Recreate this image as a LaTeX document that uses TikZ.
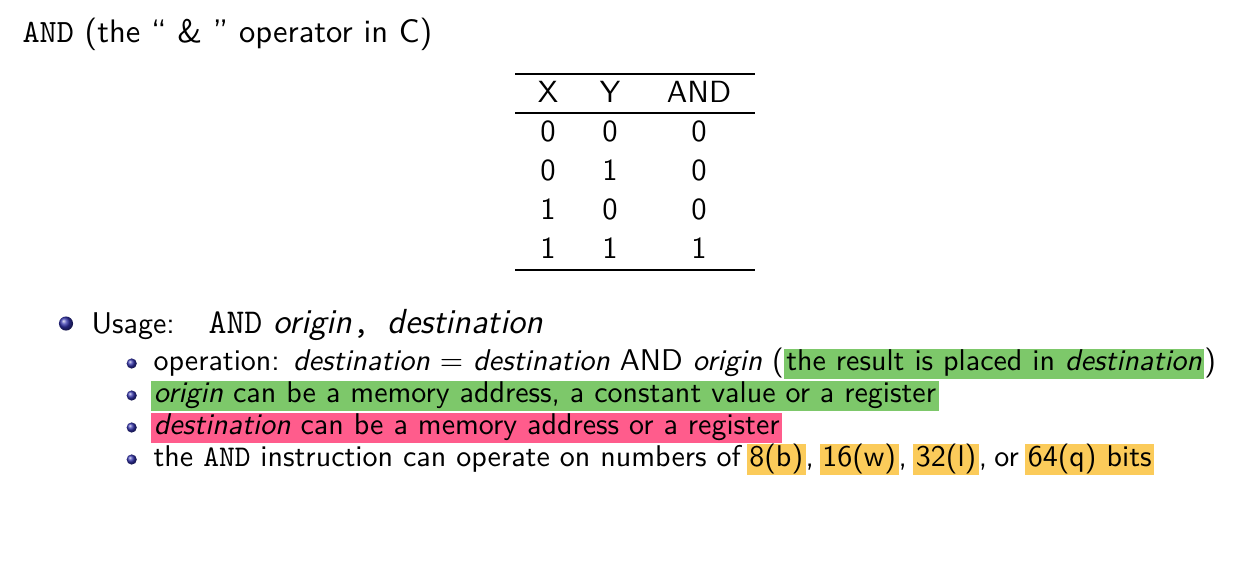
\documentclass[tikz,border=0pt]{standalone}
\usepackage{xcolor}
\renewcommand{\familydefault}{\sfdefault}
\definecolor{hlgreen}{RGB}{125,200,106}
\definecolor{hlpink}{RGB}{255,92,140}
\definecolor{hlyellow}{RGB}{251,203,90}
\definecolor{ballblue}{RGB}{50,50,170}
\newcommand\hlx[2]{{\setlength{\fboxsep}{0pt}\colorbox{#1}{\hspace{0.85pt}\rule[-2.83pt]{0pt}{10pt}#2\hspace{0.85pt}}}}
\tikzset{
  txt/.style={inner sep=0pt, anchor=base west, font=\fontsize{10}{12}\selectfont},
  bigtxt/.style={inner sep=0pt, anchor=base west, font=\fontsize{10.85}{13}\selectfont},
  argtxt/.style={inner sep=0pt, anchor=base west, font=\fontsize{11.6}{14}\selectfont},
  cell/.style={inner sep=0pt, anchor=base, font=\fontsize{10.2}{12}\selectfont},
  ballA/.style={ball color=ballblue},
}
\begin{document}
\begin{tikzpicture}[x=0.33333pt,y=-0.33333pt]
\useasboundingbox[fill=white] (0,0) rectangle (1244,570);
% title
\node[bigtxt] (title) at (22,42) {\texttt{AND} (the `` \& '' operator in C)};
% table
\draw[line width=0.7pt] (515,74) -- (755,74);
\draw[line width=0.45pt] (515,113) -- (755,113);
\draw[line width=0.7pt] (515,270) -- (755,270);
\node[cell] (hX) at (548,102) {X};
\node[cell] (hY) at (610,102) {Y};
\node[cell] (hA) at (699,102) {AND};
\foreach \r/\yy/\a/\b/\c in {1/141/0/0/0, 2/180/0/1/0, 3/219/1/0/0, 4/258/1/1/1}{
  \node[cell] (x\r) at (548,\yy) {\a};
  \node[cell] (y\r) at (610,\yy) {\b};
  \node[cell] (z\r) at (699,\yy) {\c};
}
% usage
\shade[ballA] (66,323.5) circle (2.35pt);
\node[txt] (usage) at (91,333) {Usage:};
\node[argtxt] (args) at (208,333) {\texttt{AND} \textit{origin}\texttt{,\ }\textit{destination}};
% sub items
\foreach \yy in {370,402,434,466}{
  \shade[ballA] (131.7,\yy-6.5) circle (1.7pt);
}
\node[txt] (l1) at (153,370) {operation: \textit{destination} $=$ \textit{destination} AND \textit{origin} (\hlx{hlgreen}{the result is placed in \textit{destination}})};
\node[txt] (l2) at (150.7,402) {\hlx{hlgreen}{\textit{origin} can be a memory address, a constant value or a register}};
\node[txt] (l3) at (150.7,434) {\hlx{hlpink}{\textit{destination} can be a memory address or a register}};
\node[txt] (l4) at (153,466) {the \texttt{AND} instruction can operate on numbers of\hspace{2pt}\hlx{hlyellow}{8(b)},\hspace{1.9pt}\hlx{hlyellow}{16(w)},\hspace{2.1pt}\hlx{hlyellow}{32(l)},\hspace{2.4pt}or\hspace{2.1pt}\hlx{hlyellow}{64(q) bits}};
\end{tikzpicture}
\end{document}
